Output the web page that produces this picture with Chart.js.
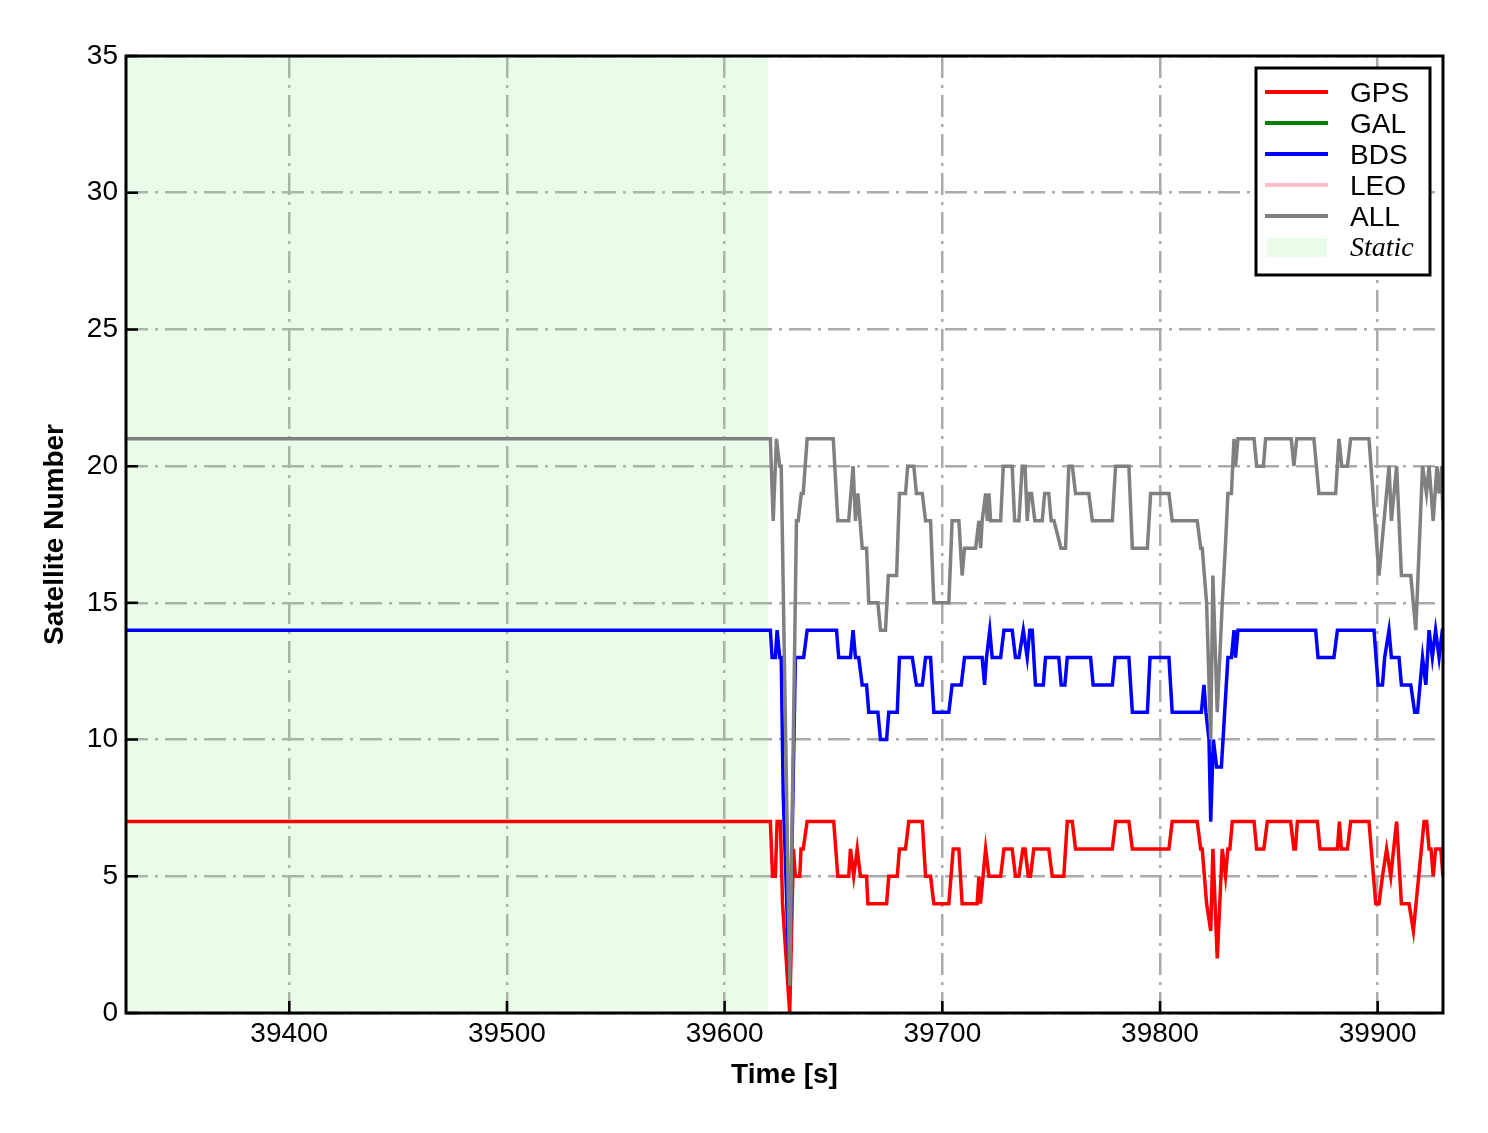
<!DOCTYPE html>
<html>
<head>
<meta charset="utf-8">
<script src="https://cdn.jsdelivr.net/npm/chart.js@4"></script>
<style>
  body { margin: 0; background: #ffffff; }
  #sat-chart { display: block; }
</style>
</head>
<body>
<canvas id="sat-chart" width="1488" height="1133"></canvas>
<script>
// axis range //
var xMin = 39325
var xMax = 39930
var xTicks = [39400, 39500, 39600, 39700, 39800, 39900]
var yTicks = [0, 5, 10, 15, 20, 25, 30, 35]

// static period //
var staticStart = 39325
var staticEnd = 39620

var legendNames = ["GPS", "GAL", "BDS", "LEO", "ALL", "Static"]

// GPS //
var gpsTime = [39325, 39620, 39621, 39622, 39623.3, 39624.1, 39625.6, 39626.6, 39629.9, 39631.6, 39632.5, 39634.5, 39635.1, 39636.1, 39637.9, 39650.1, 39652, 39657, 39657.8, 39659.3, 39660.9, 39662.4, 39665.2, 39665.8, 39674.4, 39675.4, 39679.3, 39680.3, 39683.1, 39684.6, 39690.8, 39692.3, 39694.6, 39696.1, 39703, 39705, 39707.6, 39709.1, 39716, 39716.8, 39717.5, 39719.9, 39721.4, 39726.8, 39728.3, 39732.1, 39733.6, 39735.2, 39737, 39738, 39739.5, 39740.5, 39742, 39748.9, 39750.5, 39755.8, 39757.4, 39759.7, 39761.2, 39778.1, 39779.6, 39785.7, 39787.3, 39804.1, 39805.6, 39817.1, 39818.7, 39819.4, 39821.4, 39823.3, 39824.3, 39826.3, 39828.6, 39830.1, 39831.2, 39832.1, 39833.2, 39843.2, 39844.4, 39847.7, 39849.3, 39860, 39861.5, 39862.2, 39863.1, 39872.3, 39873.5, 39881.5, 39882.4, 39883.3, 39886.1, 39887.6, 39896, 39899.1, 39900.6, 39902.2, 39904.1, 39906, 39908.7, 39910.9, 39914.4, 39916.4, 39921.3, 39922.5, 39923.6, 39924.5, 39925.5, 39926.6, 39929, 39930]
var gpsSat = [7, 7, 7, 5, 5, 7, 7, 4, 0, 6, 5, 5, 6, 6, 7, 7, 5, 5, 6, 5, 6, 5, 5, 4, 4, 5, 5, 6, 6, 7, 7, 5, 5, 4, 4, 6, 6, 4, 4, 5, 4, 6, 5, 5, 6, 6, 5, 5, 6, 6, 5, 5, 6, 6, 5, 5, 7, 7, 6, 6, 7, 7, 6, 6, 7, 7, 6, 6, 4, 3, 6, 2, 6, 5, 6, 6, 7, 7, 6, 6, 7, 7, 6, 6, 7, 7, 6, 6, 7, 6, 6, 7, 7, 4, 4, 5, 6, 5, 7, 4, 4, 3, 7, 7, 6, 6, 5, 6, 6, 5]

// BDS //
var bdsTime = [39325, 39620, 39621, 39621.8, 39623.3, 39624.1, 39625.3, 39626, 39626.9, 39629.8, 39632.5, 39636.3, 39637.9, 39651.4, 39652.4, 39657.8, 39659, 39660.1, 39661.6, 39663.2, 39665.2, 39666.2, 39670.4, 39671.6, 39674.4, 39675.4, 39679.3, 39680.3, 39686.2, 39688.1, 39690.8, 39692.3, 39694.6, 39696.1, 39703, 39704.5, 39708.7, 39710.2, 39718.3, 39719.4, 39720.3, 39721.8, 39722.9, 39726.8, 39728.3, 39732.1, 39733.6, 39735.2, 39737.2, 39739, 39740.2, 39741.3, 39742.8, 39746.4, 39747.4, 39753.5, 39754.6, 39756.3, 39757.4, 39768.1, 39769.3, 39778.1, 39779.3, 39785.7, 39787.3, 39794.2, 39795.4, 39804.1, 39805.6, 39819, 39820.2, 39821.1, 39822.5, 39823.3, 39824.5, 39826, 39828.2, 39831.2, 39832.8, 39834, 39834.7, 39835.8, 39871.5, 39872.6, 39879.9, 39881.5, 39898.3, 39900.2, 39902.2, 39903.2, 39905.2, 39906.3, 39909.8, 39910.9, 39915.2, 39917, 39918.3, 39920.6, 39922.1, 39923.6, 39925.1, 39926.6, 39928.2, 39929.7, 39930]
var bdsSat = [14, 14, 14, 13, 13, 14, 13, 13, 8, 1, 13, 13, 14, 14, 13, 13, 14, 13, 13, 12, 12, 11, 11, 10, 10, 11, 11, 13, 13, 12, 12, 13, 13, 11, 11, 12, 12, 13, 13, 12, 13, 14, 13, 13, 14, 14, 13, 13, 14, 13, 14, 14, 12, 12, 13, 13, 12, 12, 13, 13, 12, 12, 13, 13, 11, 11, 13, 13, 11, 11, 12, 11, 10, 7, 10, 9, 9, 13, 13, 14, 13, 14, 14, 13, 13, 14, 14, 12, 12, 13, 14, 13, 13, 12, 12, 11, 11, 13, 12, 14, 13, 14, 13, 14, 14]

// ALL //
var allTime = [39325, 39620, 39621, 39622.3, 39623.8, 39625.3, 39626, 39629.9, 39633, 39633.8, 39635.2, 39636.1, 39637.9, 39649.9, 39652, 39657, 39659, 39660.1, 39661.2, 39663.2, 39665.2, 39666.2, 39670.4, 39671.6, 39673.9, 39675.2, 39679, 39680.3, 39683.1, 39684.1, 39686.9, 39688.1, 39690.8, 39692.3, 39694.6, 39696.1, 39703, 39704.5, 39707.6, 39709.1, 39710.2, 39715.3, 39716.8, 39717.6, 39718.3, 39719.9, 39720.7, 39721.4, 39722.2, 39726.8, 39728, 39732.1, 39733.2, 39735.2, 39736.7, 39738, 39739, 39740, 39741, 39742.5, 39745.9, 39747, 39748.9, 39750, 39751.3, 39754.5, 39756.6, 39758.1, 39759.7, 39761.2, 39767.3, 39768.9, 39778.1, 39779.6, 39785.7, 39787.3, 39794.2, 39795.7, 39804.1, 39805.6, 39817.1, 39818.7, 39819.4, 39821.4, 39823.3, 39824.3, 39826.3, 39828.6, 39830, 39831.2, 39832.8, 39834, 39834.7, 39835.8, 39843.2, 39844.4, 39847.5, 39848.5, 39860.3, 39861.5, 39862.8, 39870.7, 39873, 39880.7, 39882.2, 39883.5, 39886.1, 39887.6, 39896, 39900.6, 39905.2, 39906.3, 39908.7, 39910.9, 39915.2, 39917.5, 39920.6, 39922.4, 39923.6, 39925.5, 39927.2, 39928.2, 39929.4, 39930]
var allSat = [21, 21, 21, 18, 21, 20, 20, 1, 18, 18, 19, 19, 21, 21, 18, 18, 20, 18, 19, 17, 17, 15, 15, 14, 14, 16, 16, 19, 19, 20, 20, 19, 19, 18, 18, 15, 15, 18, 18, 16, 17, 17, 18, 17, 18, 19, 18, 19, 18, 18, 20, 20, 18, 18, 20, 20, 18, 19, 19, 18, 18, 19, 19, 18, 18, 17, 17, 20, 20, 19, 19, 18, 18, 20, 20, 17, 17, 19, 19, 18, 18, 17, 17, 15, 10, 16, 11, 15, 17, 19, 19, 21, 20, 21, 21, 20, 20, 21, 21, 20, 21, 21, 19, 19, 21, 20, 20, 21, 21, 16, 20, 18, 20, 16, 16, 14, 20, 19, 20, 18, 20, 19, 20, 18]

// GAL and LEO have no satellites in this run
var galTime = []
var galSat = []
var leoTime = []
var leoSat = []

function toPoints(t, v) {
    var pts = []
    for (var i = 0; i < t.length; i++) {
        pts.push({"x": t[i], "y": v[i]})
    }
    return pts
}

function lineSet(name, color, t, v, order) {
    return {
        label: name,
        data: toPoints(t, v),
        borderColor: color,
        backgroundColor: color,
        borderWidth: 3.5,
        pointRadius: 0,
        tension: 0,
        fill: false,
        order: order
    }
}

var colors = {GPS: "#ff0000", GAL: "#008000", BDS: "#0000ff", LEO: "#ffc0cb", ALL: "#808080"}
var staticColor = "rgba(144, 238, 144, 0.2)"
var gridDash = [22, 7, 3, 7]

// light green band for the static part
const staticShade = {
    id: "staticShade",
    beforeDatasetsDraw(chart) {
        var ctx = chart.ctx
        var area = chart.chartArea
        var x0 = chart.scales.x.getPixelForValue(staticStart)
        var x1 = chart.scales.x.getPixelForValue(staticEnd)
        ctx.save()
        ctx.fillStyle = staticColor
        ctx.fillRect(x0, area.top, x1 - x0, area.bottom - area.top)
        ctx.restore()
    }
}

// inward ticks + black frame
const frameBox = {
    id: "frameBox",
    afterDatasetsDraw(chart) {
        var ctx = chart.ctx
        var a = chart.chartArea
        ctx.save()
        ctx.strokeStyle = "#000000"
        ctx.lineWidth = 2.5
        ctx.beginPath()
        xTicks.forEach(function (v) {
            var px = chart.scales.x.getPixelForValue(v)
            ctx.moveTo(px, a.bottom)
            ctx.lineTo(px, a.bottom - 12)
        })
        yTicks.forEach(function (v) {
            var py = chart.scales.y.getPixelForValue(v)
            ctx.moveTo(a.left, py)
            ctx.lineTo(a.left + 12, py)
        })
        ctx.stroke()
        ctx.lineWidth = 3
        ctx.strokeRect(a.left, a.top, a.right - a.left, a.bottom - a.top)
        ctx.restore()
    }
}

// legend drawn by hand so "Static" can be italic serif
const legendBox = {
    id: "legendBox",
    afterDraw(chart) {
        var ctx = chart.ctx
        var bx = 1256, by = 68, bw = 174, bh = 207
        ctx.save()
        ctx.fillStyle = "#ffffff"
        ctx.fillRect(bx, by, bw, bh)
        ctx.strokeStyle = "#000000"
        ctx.lineWidth = 3
        ctx.strokeRect(bx, by, bw, bh)
        var rowY = [92, 123, 154, 185, 216, 247]
        ctx.textBaseline = "middle"
        ctx.textAlign = "left"
        for (var i = 0; i < legendNames.length; i++) {
            var name = legendNames[i]
            if (name === "Static") {
                ctx.fillStyle = staticColor
                ctx.fillRect(1267, rowY[i] - 9, 60, 19)
                ctx.font = "italic 28px 'Liberation Serif', 'DejaVu Serif', serif"
            } else {
                ctx.strokeStyle = colors[name]
                ctx.lineWidth = 4
                ctx.beginPath()
                ctx.moveTo(1265, rowY[i])
                ctx.lineTo(1328, rowY[i])
                ctx.stroke()
                ctx.font = "28px 'Liberation Sans', Arial, sans-serif"
            }
            ctx.fillStyle = "#000000"
            ctx.fillText(name, 1350, rowY[i] + 2)
        }
        ctx.restore()
    }
}

const data = {
    datasets: [
        lineSet("GPS", colors.GPS, gpsTime, gpsSat, 4),
        lineSet("GAL", colors.GAL, galTime, galSat, 3),
        lineSet("BDS", colors.BDS, bdsTime, bdsSat, 2),
        lineSet("LEO", colors.LEO, leoTime, leoSat, 1),
        lineSet("ALL", colors.ALL, allTime, allSat, 0)
    ]
};

var tickFont = {family: "'Liberation Sans', Arial, sans-serif", size: 28}
var titleFont = {family: "'Liberation Sans', Arial, sans-serif", size: 28, weight: "bold"}

const satConfig = {
    type: "line",
    data,
    options: {
        responsive: false,
        devicePixelRatio: 1,
        animation: false,
        layout: {
            padding: {top: 56, right: 45, left: 0, bottom: 0}
        },
        plugins: {
            legend: {display: false},
            tooltip: {enabled: false}
        },
        scales: {
            x: {
                type: "linear",
                min: xMin,
                max: xMax,
                afterBuildTicks: function (s) {
                    s.ticks = xTicks.map(function (v) { return {value: v} })
                },
                afterFit: function (s) { s.height = 120 },
                ticks: {
                    font: tickFont,
                    color: "#000000",
                    padding: 4,
                    maxRotation: 0,
                    callback: function (v) { return String(v) }
                },
                grid: {color: "#aaaaaa", lineWidth: 2.5, drawTicks: false},
                border: {display: false, dash: gridDash},
                title: {
                    display: true,
                    text: "Time [s]",
                    color: "#000000",
                    font: titleFont,
                    padding: {top: 4, bottom: 41}
                }
            },
            y: {
                min: 0,
                max: 35,
                afterBuildTicks: function (s) {
                    s.ticks = yTicks.map(function (v) { return {value: v} })
                },
                afterFit: function (s) { s.width = 126 },
                ticks: {
                    font: tickFont,
                    color: "#000000",
                    padding: 8,
                    callback: function (v) { return String(v) }
                },
                grid: {color: "#aaaaaa", lineWidth: 2.5, drawTicks: false},
                border: {display: false, dash: gridDash},
                title: {
                    display: true,
                    text: "Satellite Number",
                    color: "#000000",
                    font: titleFont,
                    padding: {top: 38, bottom: 4}
                }
            }
        }
    },
    plugins: [staticShade, frameBox, legendBox]
};

var chart = new Chart(
    document.getElementById("sat-chart"),
    satConfig
);
</script>
</body>
</html>
